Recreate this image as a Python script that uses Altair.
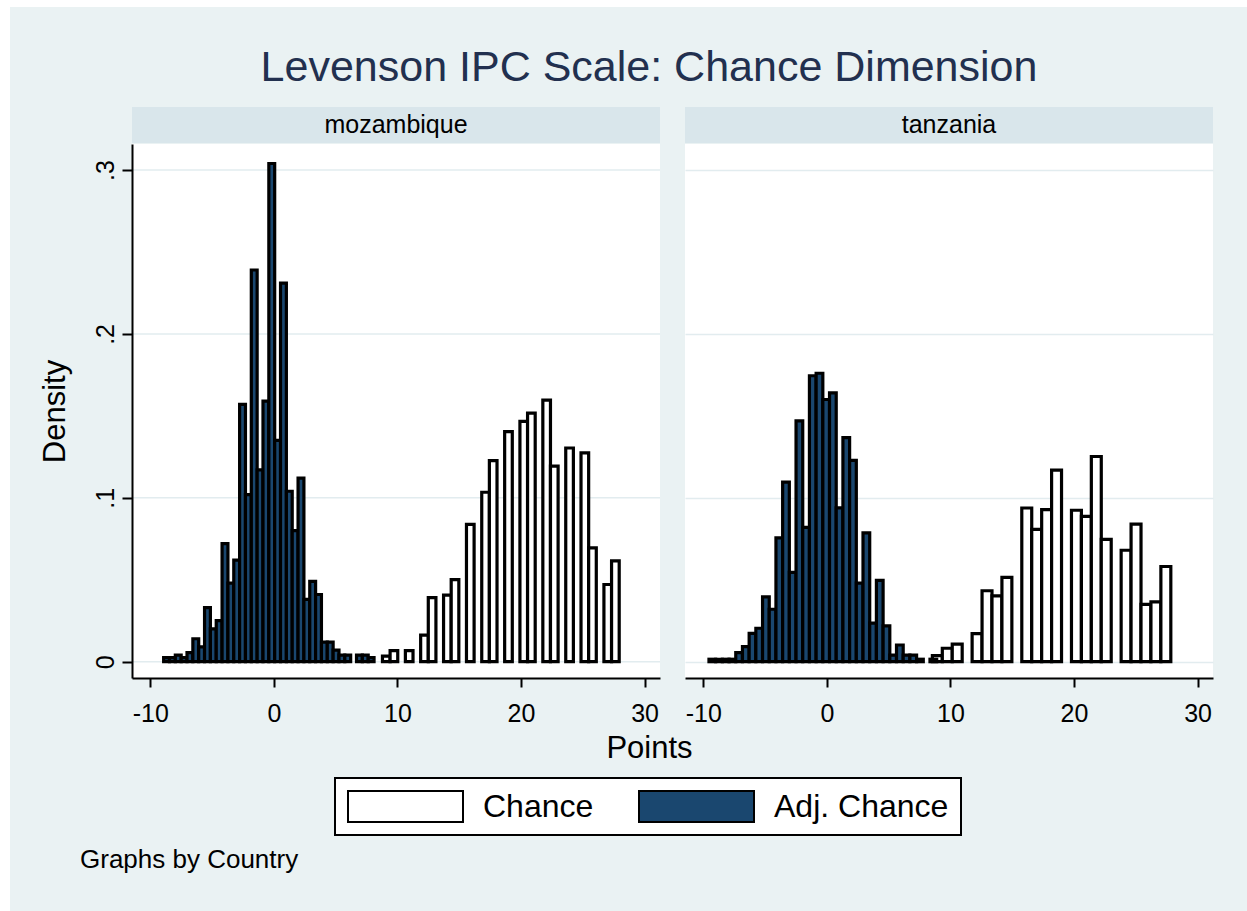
import altair as alt
import pandas as pd

FONT = "Liberation Sans"
BG = "#EAF2F3"
STRIP = "#D9E6EB"
GRID = "#E2ECEF"
NAVY = "#1A476F"

# Histogram bins per country: left edge of the first bin, bin width, densities
moz_chance_start = 8.79
moz_chance_width = 0.618
moz_chance_density = [0.0034, 0.0067, 0, 0.0067, 0, 0.0162, 0.0391, 0, 0.0406, 0.0501,
                      0, 0.0838, 0, 0.1034, 0.1227, 0, 0.1404, 0, 0.1467, 0.1517,
                      0, 0.1596, 0.1193, 0, 0.1304, 0, 0.1274, 0.0694, 0, 0.0471, 0.0615]

moz_adj_start = -8.92
moz_adj_width = 0.473
moz_adj_density = [0.0025, 0.0025, 0.004, 0.0025, 0.0055, 0.014, 0.009, 0.033, 0.020, 0.025,
                   0.072, 0.048, 0.062, 0.157, 0.102, 0.239, 0.117, 0.159, 0.304, 0.135,
                   0.231, 0.104, 0.080, 0.112, 0.038, 0.049, 0.041, 0.012, 0.012, 0.007,
                   0.004, 0.004, 0.0, 0.004, 0.004, 0.0025]

tza_chance_start = 8.54
tza_chance_width = 0.804
tza_chance_density = [0.0037, 0.0082, 0.0107, 0, 0.0171, 0.0433, 0.0402, 0.0515, 0, 0.0938,
                      0.0808, 0.0928, 0.1169, 0, 0.0924, 0.0887, 0.1252, 0.0746, 0, 0.068,
                      0.0839, 0.035, 0.0365, 0.0581]

tza_adj_start = -9.54
tza_adj_width = 0.542
tza_adj_density = [0.0015, 0.0015, 0.0015, 0.0015, 0.0055, 0.0092, 0.0173, 0.0204, 0.0396, 0.032,
                   0.0755, 0.1096, 0.0545, 0.147, 0.082, 0.1745, 0.176, 0.160, 0.164, 0.0939,
                   0.1367, 0.1229, 0.048, 0.0786, 0.0235, 0.0496, 0.0218, 0.004, 0.0102, 0.004,
                   0.004, 0.0015, 0.0, 0.0015]

countries = ["mozambique", "tanzania"]
series_names = ["Chance", "Adj. Chance"]
series_colors = ["#FFFFFF", NAVY]
x_ticks = [-10, 0, 10, 20, 30]
y_ticks = [0, 0.1, 0.2, 0.3]


def bins(country, series, start, width, dens):
    return [
        {"country": country, "series": series,
         "x0": start + i * width, "x1": start + (i + 1) * width, "density": d}
        for i, d in enumerate(dens) if d > 0
    ]


rows = (bins("mozambique", "Chance", moz_chance_start, moz_chance_width, moz_chance_density)
        + bins("mozambique", "Adj. Chance", moz_adj_start, moz_adj_width, moz_adj_density)
        + bins("tanzania", "Chance", tza_chance_start, tza_chance_width, tza_chance_density)
        + bins("tanzania", "Adj. Chance", tza_adj_start, tza_adj_width, tza_adj_density))
hist = pd.DataFrame(rows)

PW, PH = 528, 534

xscale = alt.Scale(domain=[-11.48, 31.25], nice=False, zero=False)
yscale = alt.Scale(domain=[-0.00995, 0.3159], nice=False, zero=False)
fill_scale = alt.Scale(domain=series_names, range=series_colors)

legend = alt.Legend(
    title=None, orient="none", legendX=203, legendY=634, direction="horizontal",
    symbolType="M-1,-0.27H1V0.27H-1Z", symbolSize=13225,
    symbolStrokeColor="black", symbolStrokeWidth=2, symbolOpacity=1,
    clipHeight=33, labelFont=FONT, labelFontSize=32, labelColor="black",
    labelLimit=400, labelOffset=19, columnPadding=44, padding=12,
    strokeColor="black", fillColor="white", cornerRadius=0,
)

x_axis_common = dict(
    values=x_ticks, grid=False, labelFont=FONT, labelFontSize=25, labelColor="black",
    labelExpr="(datum.value < 0 ? '-' : '') + abs(datum.value)",
    labelPadding=14, labelFlush=False, labelOverlap=False, tickSize=9, tickWidth=2,
    tickColor="black", domainColor="black", domainWidth=2,
)
left_x_axis = alt.Axis(
    title="Points", titleX=517, titleY=79, titleAlign="center", titleBaseline="alphabetic",
    titleFont=FONT, titleFontSize=31, titleFontWeight="normal", titleColor="black",
    zindex=1, **x_axis_common,
)
right_x_axis = alt.Axis(title=None, **x_axis_common)

left_y_axis = alt.Axis(
    values=y_ticks, grid=False,
    labelExpr="datum.value == 0 ? '0' : '.' + format(datum.value * 10, 'd')",
    labelAngle=270, labelAlign="center", labelBaseline="alphabetic", labelPadding=9,
    labelFont=FONT, labelFontSize=25, labelColor="black", labelFlush=False, labelOverlap=False,
    tickSize=10, tickWidth=2, tickColor="black", domainColor="black", domainWidth=2,
    title="Density", titleAngle=270, titleX=-68, titleY=267, titleAlign="center",
    titleBaseline="alphabetic", titleFont=FONT, titleFontSize=31, titleFontWeight="normal",
    titleColor="black", zindex=1,
)
right_y_axis = alt.Axis(
    values=y_ticks, grid=True, gridColor=GRID, gridWidth=1.5, labels=False, ticks=False,
    domain=False, title=None,
)


def one_row(**kw):
    return pd.DataFrame({k: [v] for k, v in kw.items()})


def text_layer(label, x, y, size, color="black", align="center", baseline="alphabetic"):
    return alt.Chart(one_row(label=label)).mark_text(
        align=align, baseline=baseline, font=FONT, fontSize=size, color=color
    ).encode(x=alt.value(x), y=alt.value(y), text="label:N")


def bars(country, x_axis, y_axis):
    return alt.Chart(hist[hist["country"] == country]).mark_rect(
        stroke="black", strokeWidth=3.2
    ).encode(
        x=alt.X("x0:Q", scale=xscale, axis=x_axis),
        x2="x1:Q",
        y=alt.Y("density:Q", scale=yscale, axis=y_axis),
        y2=alt.datum(0),
        fill=alt.Fill("series:N", scale=fill_scale, legend=legend),
    )


def strip(country):
    box = alt.Chart(one_row(country=country)).mark_rect(fill=STRIP).encode(
        x=alt.value(0), x2=alt.value(PW), y=alt.value(-37), y2=alt.value(-1)
    )
    label = alt.Chart(one_row(country=country)).mark_text(
        align="center", baseline="middle", font=FONT, fontSize=25, color="black"
    ).encode(x=alt.value(PW / 2), y=alt.value(-19), text="country:N")
    return [box, label]


# graph region behind the whole figure, and the white plot region of the first panel
backdrop = alt.Chart(one_row(part="graph")).mark_rect(fill=BG).encode(
    x=alt.value(-122), x2=alt.value(1115), y=alt.value(-137), y2=alt.value(767)
)
plot_region = alt.Chart(one_row(part="plot")).mark_rect(fill="white").encode(
    x=alt.value(0), x2=alt.value(PW), y=alt.value(0), y2=alt.value(PH)
)
grid_left = alt.Chart(pd.DataFrame({"density": y_ticks})).mark_rule(
    color=GRID, strokeWidth=1.5
).encode(
    y=alt.Y("density:Q", scale=yscale, axis=left_y_axis),
    x=alt.value(0), x2=alt.value(PW),
)

left = alt.layer(
    backdrop, plot_region, grid_left,
    bars("mozambique", left_x_axis, left_y_axis),
    *strip("mozambique"),
    text_layer("Levenson IPC Scale: Chance Dimension", 517, -63, 43, color="#22304F"),
    text_layer("Graphs by Country", -52, 724, 26, align="left"),
).properties(width=PW, height=PH)

right = alt.layer(
    bars("tanzania", right_x_axis, right_y_axis),
    *strip("tanzania"),
).properties(width=PW, height=PH)

chart = alt.hconcat(
    left, right, spacing=25, bounds="flush",
    padding={"left": 10, "top": 7, "right": 0, "bottom": 0},
    background="white",
).configure_view(stroke=None, fill="white").configure_legend(strokeWidth=2)

chart.save("out.html", embed_options={"renderer": "svg", "actions": False})
